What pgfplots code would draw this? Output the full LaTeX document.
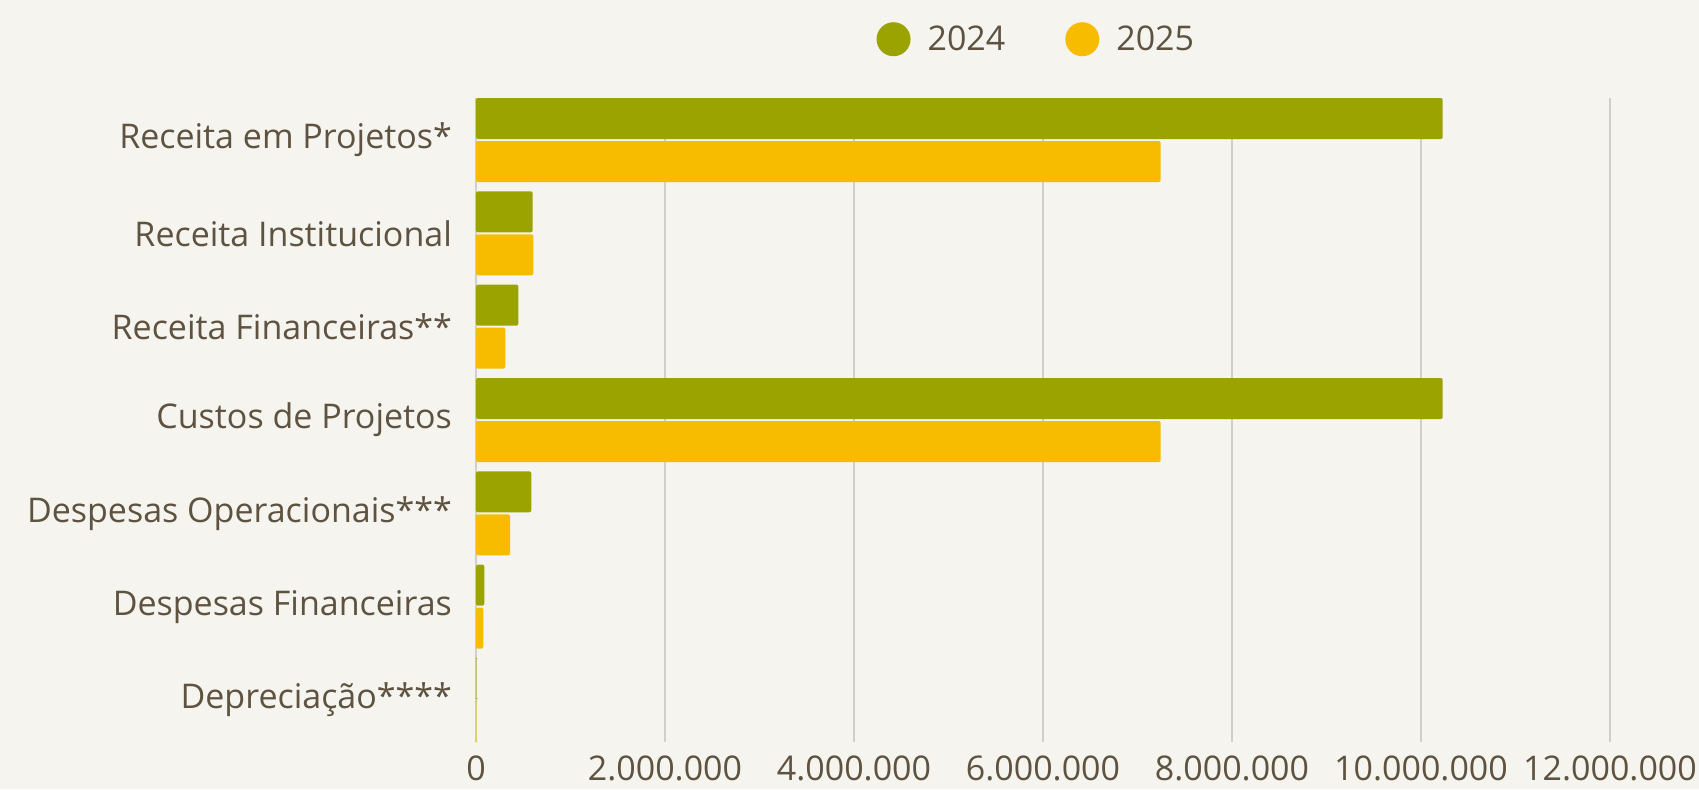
\documentclass[border=0pt]{standalone}
\usepackage{pgfplots}
\pgfplotsset{compat=1.18}
\usepackage{fontspec}
\setmainfont{Open Sans}
\definecolor{bg}{HTML}{F5F4EF}
\definecolor{olive}{HTML}{9AA300}
\definecolor{gold}{HTML}{F7BC00}
\definecolor{txt}{HTML}{5E5240}
\definecolor{gridc}{HTML}{D2CFC8}

\begin{document}
\begin{tikzpicture}[font=\fontsize{17}{20}\selectfont]
\fill[bg] (0,0) rectangle (849.5pt,394.5pt);
\useasboundingbox (0,0) rectangle (849.5pt,394.5pt);
\begin{axis}[
  at={(238pt,23.5pt)}, anchor=south west,
  scale only axis, width=567pt, height=322pt,
  xbar, bar width=20.5pt,
  xmin=0, xmax=12000000,
  ymin=-0.45, ymax=6.45,
  ytick={0,1,2,3,4,5,6},
  yticklabels={Depreciação****, Despesas Financeiras, Despesas Operacionais***, Custos de Projetos, Receita Financeiras**, Receita Institucional, Receita em Projetos*},
  xtick={0,2000000,4000000,6000000,8000000,10000000,12000000},
  scaled x ticks=false,
  /pgf/number format/fixed,
  /pgf/number format/1000 sep={.},
  /pgf/number format/assume math mode=true,
  xticklabel style={text=txt, yshift=-3.3pt},
  yticklabel style={text=txt, xshift=-8.5pt},
  xmajorgrids, major grid style={gridc, line width=0.6pt},
  axis line style={draw=none}, major tick length=0pt,
  legend style={at={(0.495,1.0913)}, anchor=center, draw=none, fill=none,
    legend columns=2, text=txt,
    /tikz/every odd column/.append style={column sep=6.5pt},
    /tikz/every even column/.append style={column sep=28pt}},
]
\addplot[fill=olive, draw=none, rounded corners=1pt, bar shift=10.75pt,
  legend image code/.code={\fill[olive] (0pt,0pt) circle (8.5pt);}]
  coordinates {(10230000,6) (600000,5) (448000,4) (10230000,3) (585000,2) (88000,1) (5000,0)};
\addlegendentry{2024}
\addplot[fill=gold, draw=none, rounded corners=1pt, bar shift=-10.75pt,
  legend image code/.code={\fill[gold] (0pt,0pt) circle (8.5pt);}]
  coordinates {(7245000,6) (607000,5) (310000,4) (7245000,3) (360000,2) (77000,1) (4000,0)};
\addlegendentry{2025}
\end{axis}
\end{tikzpicture}
\end{document}
